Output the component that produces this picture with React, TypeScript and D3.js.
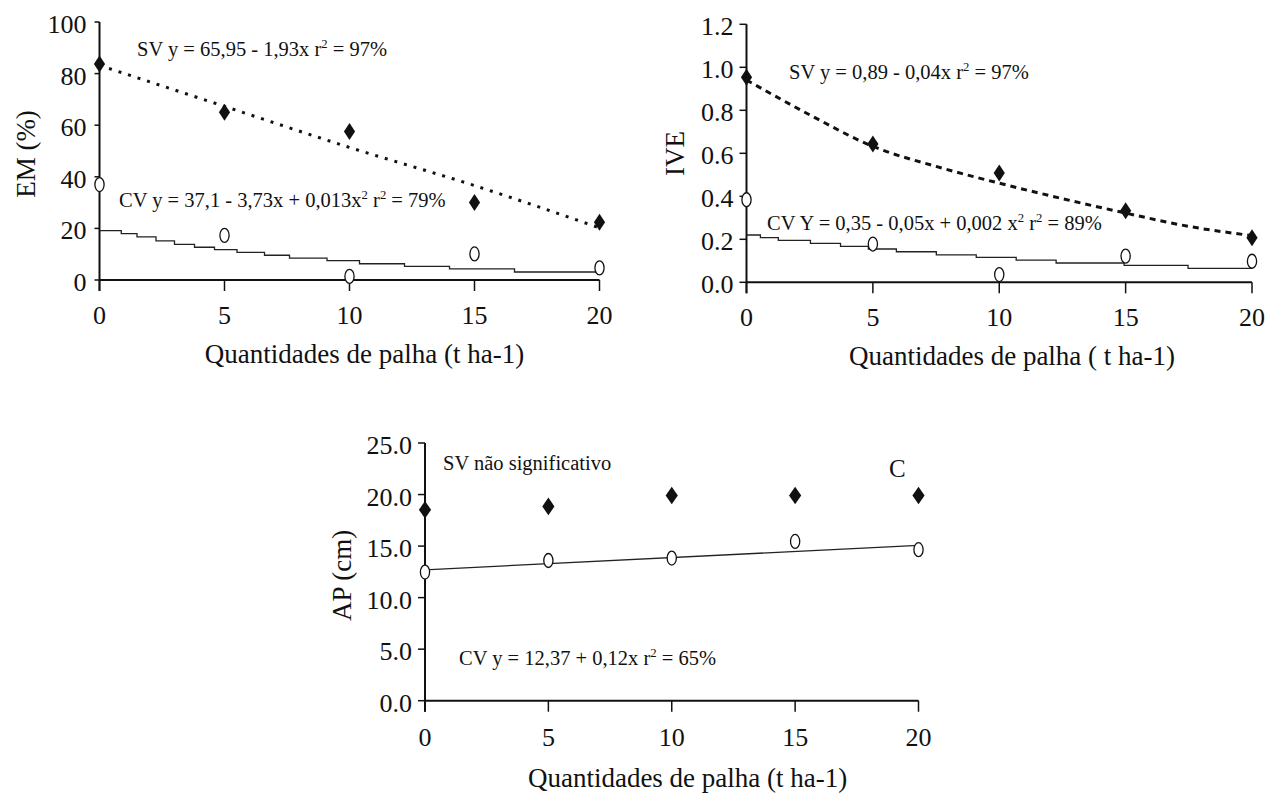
import React from "react";
import * as d3 from "d3";

// ---------- data ----------
const doses = [0, 5, 10, 15, 20];
const xTicks = [0, 5, 10, 15, 20];

// Panel A: EM (%)
const emSV = [83.7, 65.0, 57.6, 30.0, 22.4];
const emCV = [37.0, 17.3, 1.4, 10.1, 4.7];
const emSVTrendX = [0, 5, 10, 15, 20];
const emSVTrend = [83.2, 67.3, 51.4, 36.6, 20.2];
const emCVStepX = [0, 0.87, 1.5, 2.26, 3.0, 3.8, 4.6, 5.5, 6.6, 7.6, 9.1, 10.4, 12.2, 14.0, 16.6, 20];
const emCVStep = [19.1, 18.0, 16.7, 15.2, 13.8, 12.7, 11.8, 10.7, 9.6, 8.5, 7.5, 6.3, 5.3, 4.3, 3.1, 3.1];
const emYTicks = [0, 20, 40, 60, 80, 100];
const emYLabels = ["0", "20", "40", "60", "80", "100"];

// Panel B: IVE
const iveSV = [0.954, 0.643, 0.508, 0.333, 0.207];
const iveCV = [0.384, 0.178, 0.036, 0.122, 0.098];
const iveSVTrendX = [0, 2.5, 5, 7.5, 10, 12.5, 15, 17.5, 20];
const iveSVTrend = [0.941, 0.779, 0.632, 0.539, 0.461, 0.389, 0.322, 0.26, 0.217];
const iveCVStepX = [0, 0.55, 1.26, 2.53, 3.72, 4.82, 5.93, 7.51, 9.09, 10.67, 12.25, 14.94, 17.47, 20];
const iveCVStep = [0.22, 0.2075, 0.195, 0.181, 0.167, 0.155, 0.142, 0.128, 0.116, 0.1035, 0.0898, 0.079, 0.065, 0.065];
const iveYTicks = [0, 0.2, 0.4, 0.6, 0.8, 1.0, 1.2];
const iveYLabels = ["0.0", "0.2", "0.4", "0.6", "0.8", "1.0", "1.2"];

// Panel C: AP (cm)
const apSV = [18.53, 18.85, 19.9, 19.9, 19.9];
const apCV = [12.48, 13.6, 13.84, 15.45, 14.65];
const apCVTrendX = [0, 20];
const apCVTrend = [12.7, 15.07];
const apYTicks = [0, 5, 10, 15, 20, 25];
const apYLabels = ["0.0", "5.0", "10.0", "15.0", "20.0", "25.0"];

const xTitle = "Quantidades de palha (t ha-1)";
const xTitleB = "Quantidades de palha ( t ha-1)";

// ---------- drawing ----------
const FONT = "'Liberation Serif', 'Times New Roman', serif";

type Part = { t: string; sup?: boolean };

function RichText({ x, y, parts, size }: { x: number; y: number; parts: Part[]; size: number }) {
  const shift = size * 0.38;
  const out: any[] = [];
  let raised = false;
  parts.forEach((p, i) => {
    if (p.sup) {
      out.push(
        <tspan key={i} fontSize={size * 0.62} dy={raised ? 0 : -shift}>
          {p.t}
        </tspan>
      );
      raised = true;
    } else {
      out.push(
        <tspan key={i} dy={raised ? shift : 0}>
          {p.t}
        </tspan>
      );
      raised = false;
    }
  });
  return (
    <text x={x} y={y} fontSize={size} fontFamily={FONT} fill="#111" style={{ whiteSpace: "pre" }}>
      {out}
    </text>
  );
}

function diamondPath(hw: number, hh: number) {
  return `M0,${-hh}L${hw},0L0,${hh}L${-hw},0Z`;
}

type PanelProps = {
  xr: [number, number];
  yr: [number, number];
  yDomain: [number, number];
  yTicks: number[];
  yLabels: string[];
  yTickLen: number;
  sv: number[];
  cv: number[];
  svTrendX?: number[];
  svTrend?: number[];
  svDash?: string;
  cvStepX?: number[];
  cvStep?: number[];
  cvLineX?: number[];
  cvLine?: number[];
  yTitle: string;
  yTitlePos: [number, number];
  xTitleText: string;
  xTitlePos: [number, number];
  xLabelDy: number;
  diamond: [number, number];
  annotations: { x: number; y: number; parts: Part[]; size: number }[];
};

function Panel(p: PanelProps) {
  const x = d3.scaleLinear().domain([0, 20]).range(p.xr);
  const y = d3.scaleLinear().domain(p.yDomain).range(p.yr);
  const y0 = y(p.yDomain[0]);
  const yTop = y(p.yDomain[1]);
  const xl = x(0);

  const svLine =
    p.svTrendX && p.svTrend
      ? d3
          .line<number>()
          .x((_, i) => x(p.svTrendX![i]))
          .y((d) => y(d))
          .curve(d3.curveMonotoneX)(p.svTrend)
      : null;
  const cvStepLine =
    p.cvStepX && p.cvStep
      ? d3
          .line<number>()
          .x((_, i) => x(p.cvStepX![i]))
          .y((d) => y(d))
          .curve(d3.curveStepAfter)(p.cvStep)
      : null;
  const cvLin =
    p.cvLineX && p.cvLine
      ? d3
          .line<number>()
          .x((_, i) => x(p.cvLineX![i]))
          .y((d) => y(d))(p.cvLine)
      : null;

  return (
    <g>
      {/* axes */}
      <line x1={xl} x2={xl} y1={yTop} y2={y0 + 11} stroke="#111" strokeWidth={2} />
      <line x1={xl} x2={x(20)} y1={y0} y2={y0} stroke="#111" strokeWidth={2} />
      {p.yTicks.map((t, i) => (
        <g key={"yt" + i}>
          <line x1={xl - p.yTickLen} x2={xl} y1={y(t)} y2={y(t)} stroke="#111" strokeWidth={1.5} />
          <text
            x={xl - 13}
            y={y(t) + 11}
            textAnchor="end"
            fontSize={26}
            fontFamily={FONT}
            fill="#111"
          >
            {p.yLabels[i]}
          </text>
        </g>
      ))}
      {xTicks.map((t, i) => (
        <g key={"xt" + i}>
          <line x1={x(t)} x2={x(t)} y1={y0} y2={y0 + 11} stroke="#111" strokeWidth={1.5} />
          <text x={x(t)} y={y0 + p.xLabelDy} textAnchor="middle" fontSize={26} fontFamily={FONT} fill="#111">
            {String(t)}
          </text>
        </g>
      ))}
      {/* titles */}
      <text
        x={p.xTitlePos[0]}
        y={p.xTitlePos[1]}
        textAnchor="middle"
        fontSize={27}
        fontFamily={FONT}
        fill="#111"
        style={{ whiteSpace: "pre" }}
      >
        {p.xTitleText}
      </text>
      <text
        transform={`translate(${p.yTitlePos[0]},${p.yTitlePos[1]}) rotate(-90)`}
        textAnchor="middle"
        dy="0.35em"
        fontSize={27}
        fontFamily={FONT}
        fill="#111"
      >
        {p.yTitle}
      </text>
      {/* trends */}
      {cvStepLine && <path d={cvStepLine} fill="none" stroke="#222" strokeWidth={1.3} />}
      {cvLin && <path d={cvLin} fill="none" stroke="#222" strokeWidth={1.3} />}
      {svLine && (
        <path d={svLine} fill="none" stroke="#111" strokeWidth={3} strokeDasharray={p.svDash} />
      )}
      {/* markers */}
      {p.cv.map((v, i) => (
        <ellipse
          key={"cv" + i}
          cx={x(doses[i])}
          cy={y(v)}
          rx={4.6}
          ry={7}
          fill="#fff"
          stroke="#111"
          strokeWidth={1.3}
        />
      ))}
      {p.sv.map((v, i) => (
        <path
          key={"sv" + i}
          d={diamondPath(p.diamond[0], p.diamond[1])}
          transform={`translate(${x(doses[i])},${y(v)})`}
          fill="#111"
        />
      ))}
      {p.annotations.map((a, i) => (
        <RichText key={"an" + i} x={a.x} y={a.y} parts={a.parts} size={a.size} />
      ))}
    </g>
  );
}

export default function App() {
  return (
    <svg
      width={1267}
      height={794}
      style={{ position: "absolute", left: 0, top: 0, background: "#fff" }}
    >
      <rect width={1267} height={794} fill="#fff" />
      <Panel
        xr={[99.5, 599.5]}
        yr={[280, 22]}
        yDomain={[0, 100]}
        yTicks={emYTicks}
        yLabels={emYLabels}
        yTickLen={5}
        sv={emSV}
        cv={emCV}
        svTrendX={emSVTrendX}
        svTrend={emSVTrend}
        svDash="3 7"
        cvStepX={emCVStepX}
        cvStep={emCVStep}
        yTitle="EM (%)"
        yTitlePos={[25.5, 154]}
        xTitleText={xTitle}
        xTitlePos={[364.5, 363]}
        xLabelDy={43.5}
        diamond={[5.6, 8.5]}
        annotations={[
          {
            x: 137,
            y: 56,
            size: 20.5,
            parts: [{ t: "SV y = 65,95 - 1,93x r" }, { t: "2", sup: true }, { t: " = 97%" }],
          },
          {
            x: 119,
            y: 207,
            size: 20.5,
            parts: [
              { t: "CV y = 37,1 - 3,73x + 0,013x" },
              { t: "2", sup: true },
              { t: " r" },
              { t: "2", sup: true },
              { t: " = 79%" },
            ],
          },
        ]}
      />
      <Panel
        xr={[746.5, 1252]}
        yr={[282.3, 24.3]}
        yDomain={[0, 1.2]}
        yTicks={iveYTicks}
        yLabels={iveYLabels}
        yTickLen={7}
        sv={iveSV}
        cv={iveCV}
        svTrendX={iveSVTrendX}
        svTrend={iveSVTrend}
        svDash="6 5"
        cvStepX={iveCVStepX}
        cvStep={iveCVStep}
        yTitle="IVE"
        yTitlePos={[675, 153.5]}
        xTitleText={xTitleB}
        xTitlePos={[1012, 365]}
        xLabelDy={43.5}
        diamond={[5.6, 8.5]}
        annotations={[
          {
            x: 789,
            y: 78.5,
            size: 20.5,
            parts: [{ t: "SV y = 0,89 - 0,04x r" }, { t: "2", sup: true }, { t: " = 97%" }],
          },
          {
            x: 767,
            y: 230,
            size: 20.5,
            parts: [
              { t: "CV Y = 0,35 - 0,05x + 0,002 x" },
              { t: "2", sup: true },
              { t: " r" },
              { t: "2", sup: true },
              { t: " = 89%" },
            ],
          },
        ]}
      />
      <Panel
        xr={[425, 918.5]}
        yr={[700.7, 443]}
        yDomain={[0, 25]}
        yTicks={apYTicks}
        yLabels={apYLabels}
        yTickLen={7}
        sv={apSV}
        cv={apCV}
        cvLineX={apCVTrendX}
        cvLine={apCVTrend}
        yTitle="AP (cm)"
        yTitlePos={[341.6, 575.5]}
        xTitleText={xTitle}
        xTitlePos={[687.6, 787]}
        xLabelDy={45.5}
        diamond={[6.1, 8.8]}
        annotations={[
          { x: 443, y: 470, size: 20.5, parts: [{ t: "SV não significativo" }] },
          {
            x: 459,
            y: 665,
            size: 20.5,
            parts: [{ t: "CV y = 12,37 + 0,12x r" }, { t: "2", sup: true }, { t: " = 65%" }],
          },
          { x: 889, y: 477, size: 25, parts: [{ t: "C" }] },
        ]}
      />
    </svg>
  );
}
